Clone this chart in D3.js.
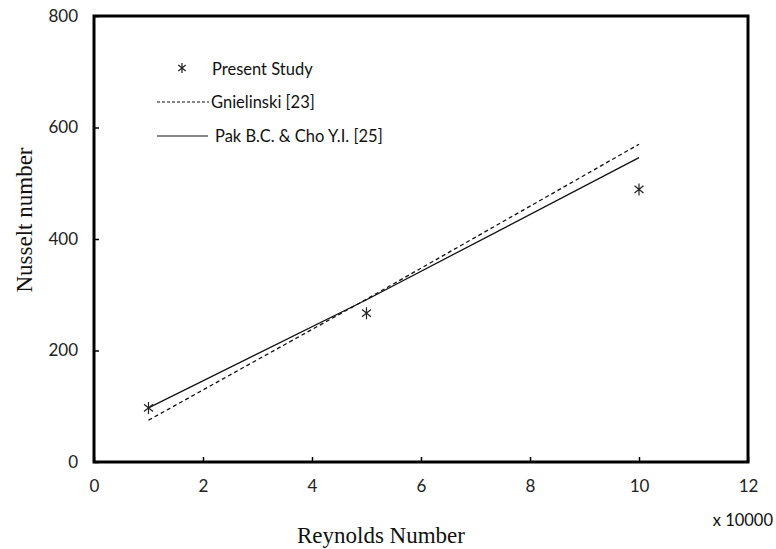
<!DOCTYPE html>
<html>
<head>
<meta charset="utf-8">
<script src="https://cdn.jsdelivr.net/npm/d3@7"></script>
<style>
  html, body { margin: 0; padding: 0; background: #fff; }
  svg { display: block; }
</style>
</head>
<body>
<svg id="chart" width="776" height="549"></svg>
<script>
// Data (Reynolds number in units of 10000)
const reynolds = [1, 5, 10];
const presentStudy = [97, 267, 489];
const gnielinski = [75, 292, 570];
const pakCho = [97, 291, 546];
const xTicks = [0, 2, 4, 6, 8, 10, 12];
const yTicks = [0, 200, 400, 600, 800];

const svg = d3.select("#chart");
const margin = { left: 94, right: 28, top: 16, bottom: 87 };
const W = 776, H = 549;

const x = d3.scaleLinear().domain([0, 12]).range([margin.left, W - margin.right]);
const y = d3.scaleLinear().domain([0, 800]).range([H - margin.bottom, margin.top]);

const sansFont = "Lato, 'Open Sans', 'Liberation Sans', sans-serif";
const serifFont = "'Liberation Serif', 'DejaVu Serif', serif";

// X axis ticks (inside)
const xAxis = d3.axisBottom(x).tickValues(xTicks).tickSizeInner(-5).tickSizeOuter(0).tickPadding(18);
const gx = svg.append("g").attr("transform", `translate(0,${y(0)})`).call(xAxis);
gx.select(".domain").remove();
gx.selectAll(".tick line").attr("stroke", "#000").attr("stroke-width", 1.5);
gx.selectAll(".tick text").attr("font-family", sansFont).attr("font-size", 17).attr("fill", "#222");

const yAxis = d3.axisLeft(y).tickValues(yTicks).tickSizeInner(-5).tickSizeOuter(0).tickPadding(16);
const gy = svg.append("g").attr("transform", `translate(${x(0)},0)`).call(yAxis);
gy.select(".domain").remove();
gy.selectAll(".tick line").attr("stroke", "#000").attr("stroke-width", 1.5);
gy.selectAll(".tick text").attr("font-family", sansFont).attr("font-size", 17).attr("fill", "#222");

// Plot frame
svg.append("rect")
  .attr("x", x(0)).attr("y", y(800))
  .attr("width", x(12) - x(0)).attr("height", y(0) - y(800))
  .attr("fill", "none").attr("stroke", "#000").attr("stroke-width", 3);

// Lines
const line = d3.line().x(d => x(d[0])).y(d => y(d[1]));
svg.append("path")
  .datum(reynolds.map((r, i) => [r, gnielinski[i]]))
  .attr("d", line).attr("fill", "none").attr("stroke", "#111")
  .attr("stroke-width", 1.3).attr("stroke-dasharray", "4,3");
svg.append("path")
  .datum(reynolds.map((r, i) => [r, pakCho[i]]))
  .attr("d", line).attr("fill", "none").attr("stroke", "#111")
  .attr("stroke-width", 1.3);

// Asterisk marker: vertical stroke plus an X
function asterisk(g, cx, cy, s) {
  const p = `M${cx},${cy - s}L${cx},${cy + s}` +
            `M${cx - s * 0.75},${cy - s * 0.6}L${cx + s * 0.75},${cy + s * 0.6}` +
            `M${cx - s * 0.75},${cy + s * 0.6}L${cx + s * 0.75},${cy - s * 0.6}`;
  g.append("path").attr("d", p).attr("stroke", "#222").attr("stroke-width", 1.2).attr("fill", "none");
}
const gm = svg.append("g");
reynolds.forEach((r, i) => asterisk(gm, x(r), y(presentStudy[i]), 6));

// Legend
const lg = svg.append("g").attr("font-family", sansFont).attr("font-size", 16.5).attr("fill", "#111");
asterisk(lg, 182, 68, 5);
lg.append("text").attr("x", 212).attr("y", 69).attr("dy", "0.35em").text("Present Study");
lg.append("line").attr("x1", 157).attr("x2", 209).attr("y1", 102).attr("y2", 102)
  .attr("stroke", "#111").attr("stroke-width", 1.2).attr("stroke-dasharray", "3,2");
lg.append("text").attr("x", 211).attr("y", 102).attr("dy", "0.35em").text("Gnielinski [23]");
lg.append("line").attr("x1", 157).attr("x2", 208).attr("y1", 136).attr("y2", 136)
  .attr("stroke", "#111").attr("stroke-width", 1.2);
lg.append("text").attr("x", 215).attr("y", 136).attr("dy", "0.35em").text("Pak B.C. & Cho Y.I. [25]");

// Axis titles
svg.append("text").attr("x", 381).attr("y", 543)
  .attr("text-anchor", "middle").attr("font-family", serifFont).attr("font-size", 23)
  .attr("fill", "#111").text("Reynolds Number");
svg.append("text").attr("transform", `translate(32,220) rotate(-90)`)
  .attr("text-anchor", "middle").attr("font-family", serifFont).attr("font-size", 23)
  .attr("fill", "#111").text("Nusselt number");
svg.append("text").attr("x", 773).attr("y", 520).attr("dy", "0.35em").attr("text-anchor", "end")
  .attr("font-family", sansFont).attr("font-size", 16.5).attr("fill", "#111").text("x 10000");
</script>
</body>
</html>
